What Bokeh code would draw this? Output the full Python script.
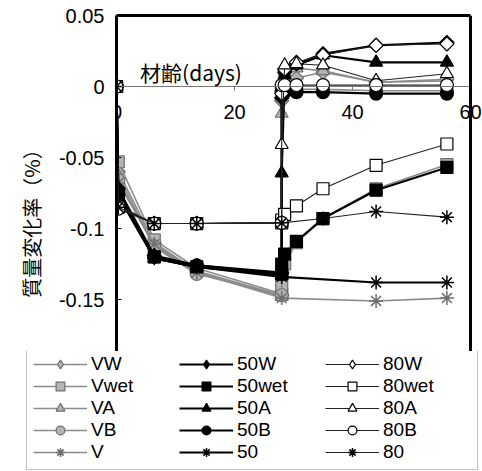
import math
from bokeh.plotting import figure
from bokeh.layouts import column
from bokeh.models import Range1d, FixedTicker, Legend, LegendItem, Label, LinearAxis, Span
from bokeh.embed import file_html
from bokeh.resources import INLINE

# ---------------- data ----------------
days_treated = [0, 0.3, 6.4, 13.6, 28, 28, 28.5, 30.5, 35, 44, 56]
days_ctrl_v50 = [0, 0.3, 6.4, 13.6, 28, 44, 56]
days_ctrl_80 = [0, 0.3, 6.4, 13.6, 28, 35, 44, 56]

VW = [0, -0.060, -0.110, -0.130, -0.147, -0.010, 0.002, 0.006, 0.010, 0.003, 0.005]
Vwet = [0, -0.053, -0.108, -0.128, -0.146, -0.140, -0.125, -0.110, -0.093, -0.072, -0.055]
VA = [0, -0.063, -0.112, -0.131, -0.148, -0.019, 0.010, 0.013, 0.011, 0.003, 0.004]
VB = [0, -0.066, -0.113, -0.132, -0.147, -0.002, -0.002, -0.002, -0.002, -0.003, -0.003]
V = [0, -0.068, -0.111, -0.131, -0.149, -0.151, -0.149]

W50 = [0, -0.072, -0.119, -0.126, -0.131, -0.008, 0.010, 0.016, 0.023, 0.029, 0.031]
wet50 = [0, -0.075, -0.120, -0.127, -0.132, -0.125, -0.118, -0.109, -0.093, -0.073, -0.057]
A50 = [0, -0.074, -0.121, -0.127, -0.133, -0.061, 0.008, 0.015, 0.022, 0.017, 0.017]
B50 = [0, -0.076, -0.120, -0.126, -0.132, -0.004, -0.004, -0.004, -0.004, -0.005, -0.005]
C50 = [0, -0.077, -0.121, -0.127, -0.134, -0.138, -0.138]

W80 = [0, -0.084, -0.0965, -0.0965, -0.096, -0.005, 0.012, 0.017, 0.022, 0.029, 0.030]
wet80 = [0, -0.085, -0.0965, -0.0965, -0.096, -0.094, -0.090, -0.084, -0.072, -0.0555, -0.0405]
A80 = [0, -0.086, -0.0965, -0.0965, -0.096, -0.041, 0.015, 0.016, 0.015, 0.004, 0.009]
B80 = [0, -0.086, -0.0965, -0.0965, -0.096, 0.001, 0.001, 0.001, 0.001, 0.001, 0.001]
C80 = [0, -0.085, -0.0965, -0.0965, -0.096, -0.093, -0.088, -0.092]

x_ticks = [0, 20, 40, 60]
x_tick_labels = ["0", "20", "40", "60"]
y_ticks = [0.05, 0, -0.05, -0.1, -0.15]
y_tick_labels = ["0.05", "0", "-0.05", "-0.1", "-0.15"]

# ---------------- styles ----------------
GRAY_FILL = "#b4b4b4"
GRAY_EDGE = "#6e6e6e"
GRAY_LINE = "#8c8c8c"

def style(group):
    if group == "V":
        return dict(line=GRAY_LINE, lw=1.6, fill=GRAY_FILL, edge=GRAY_EDGE)
    if group == "50":
        return dict(line="black", lw=2.2, fill="black", edge="black")
    return dict(line="#222222", lw=1.1, fill="white", edge="black")

def marker_kw(marker, group, in_legend=False):
    st = style(group)
    kw = dict(marker=marker, size=13, fill_color=st["fill"], line_color=st["edge"], line_width=1.2)
    if marker == "diamond":
        if not in_legend:
            kw.update(marker="square", angle=math.pi / 4, size=10)
    elif marker == "square":
        kw.update(size=12)
    elif marker == "asterisk":
        kw.update(size=14, line_color=(GRAY_EDGE if group == "V" else "black"), line_width=1.5)
    return kw

series = [
    ("VW", days_treated, VW, "diamond", "V"),
    ("Vwet", days_treated, Vwet, "square", "V"),
    ("VA", days_treated, VA, "triangle", "V"),
    ("VB", days_treated, VB, "circle", "V"),
    ("V", days_ctrl_v50, V, "asterisk", "V"),
    ("50W", days_treated, W50, "diamond", "50"),
    ("50wet", days_treated, wet50, "square", "50"),
    ("50A", days_treated, A50, "triangle", "50"),
    ("50B", days_treated, B50, "circle", "50"),
    ("50", days_ctrl_v50, C50, "asterisk", "50"),
    ("80W", days_treated, W80, "diamond", "80"),
    ("80wet", days_treated, wet80, "square", "80"),
    ("80A", days_treated, A80, "triangle", "80"),
    ("80B", days_treated, B80, "circle", "80"),
    ("80", days_ctrl_80, C80, "asterisk", "80"),
]

TICK_FONT = "Liberation Sans"
X_MAX = x_ticks[-1]

# ---------------- main plot ----------------
W, H_MAIN, H_LEG = 482, 351, 120
LEFT, RIGHT_EDGE, TOP = 116, 470, 15
x_end = X_MAX * (W - LEFT) / (RIGHT_EDGE - LEFT)   # frame runs to canvas edge so "60" is not clipped

p = figure(width=W, height=H_MAIN, output_backend="svg", toolbar_location=None,
           x_range=Range1d(0, x_end), y_range=Range1d(-0.1866, 0.05),
           min_border_left=LEFT, min_border_right=0, min_border_top=TOP,
           min_border_bottom=0)
p.xgrid.visible = False
p.ygrid.visible = False
p.background_fill_color = "white"
p.border_fill_color = "white"
p.outline_line_color = None

yax = p.yaxis[0]
yax.ticker = FixedTicker(ticks=y_ticks)
yax.major_label_overrides = {t: s for t, s in zip(y_ticks, y_tick_labels)}
yax.minor_tick_line_color = None
yax.major_tick_in = 5
yax.major_tick_out = 0
yax.axis_line_width = 3
yax.axis_line_color = "black"
yax.major_label_text_font = TICK_FONT
yax.major_label_text_font_size = "20px"
yax.major_label_text_color = "black"
yax.major_label_standoff = 12
yax.axis_label = "質量変化率（%）　　　　"
yax.axis_label_text_font = "Noto Sans CJK JP"
yax.axis_label_text_font_size = "20px"
yax.axis_label_text_font_style = "normal"
yax.axis_label_text_color = "black"
yax.axis_label_standoff = 10

xax = p.xaxis[0]
xax.fixed_location = 0
xax.bounds = (0, X_MAX)
xax.ticker = FixedTicker(ticks=x_ticks)
xax.major_label_overrides = {t: s for t, s in zip(x_ticks, x_tick_labels)}
xax.minor_tick_line_color = None
xax.major_tick_in = 0
xax.major_tick_out = 4
xax.axis_line_color = "#777777"
xax.axis_line_width = 1
xax.major_tick_line_color = "#777777"
xax.major_label_text_font = TICK_FONT
xax.major_label_text_font_size = "20px"
xax.major_label_text_color = "black"
xax.major_label_standoff = 14

# top border of the plot area
top_ax = LinearAxis(ticker=FixedTicker(ticks=[]), bounds=(0, X_MAX), major_tick_out=0,
                    major_tick_in=0, minor_tick_line_color=None,
                    major_label_text_font_size="1px", major_label_standoff=0,
                    axis_line_width=3, axis_line_color="black")
p.add_layout(top_ax, "above")
# right border of the plot area at the x-axis maximum
p.add_layout(Span(location=X_MAX, dimension="height", line_color="black", line_width=3))

p.add_layout(Label(x=4, y=0.0099, text="材齢(days)", text_font="Noto Sans CJK JP",
                   text_font_size="21px", text_baseline="middle", text_color="black"))

for name, xs, ys, marker, group in series:
    st = style(group)
    p.line(xs, ys, line_color=st["line"], line_width=st["lw"])
    p.scatter(xs, ys, **marker_kw(marker, group))

# ---------------- legend panel ----------------
q = figure(width=W, height=H_LEG, output_backend="svg", toolbar_location=None,
           x_range=Range1d(0, 1), y_range=Range1d(0, 1),
           min_border_left=0, min_border_right=0, min_border_top=0, min_border_bottom=0)
for fig in (p, q):
    if "frame_align" in fig.properties():
        fig.frame_align = False
q.axis.visible = False
q.xgrid.visible = False
q.ygrid.visible = False
q.outline_line_color = None
q.background_fill_color = "white"
q.border_fill_color = "white"

items = []
for name, xs, ys, marker, group in series:
    st = style(group)
    r_line = q.line(xs, ys, line_color=st["line"], line_width=st["lw"], visible=False)
    r_pt = q.scatter(xs, ys, visible=False, **marker_kw(marker, group, in_legend=True))
    items.append(LegendItem(label=name, renderers=[r_line, r_pt]))

legend = Legend(items=items, ncols=3, orientation="vertical",
                location=(26, 1), glyph_width=54, glyph_height=22,
                label_height=21, label_width=88, spacing=0, padding=6, margin=0,
                label_standoff=4, label_text_font=TICK_FONT,
                label_text_font_size="19px", label_text_color="black",
                border_line_color="#888888", border_line_width=1,
                background_fill_color="white", background_fill_alpha=1.0,
                inactive_fill_alpha=0.0)
q.add_layout(legend, "center")

open("out.html", "w").write(file_html(column(p, q), INLINE))
